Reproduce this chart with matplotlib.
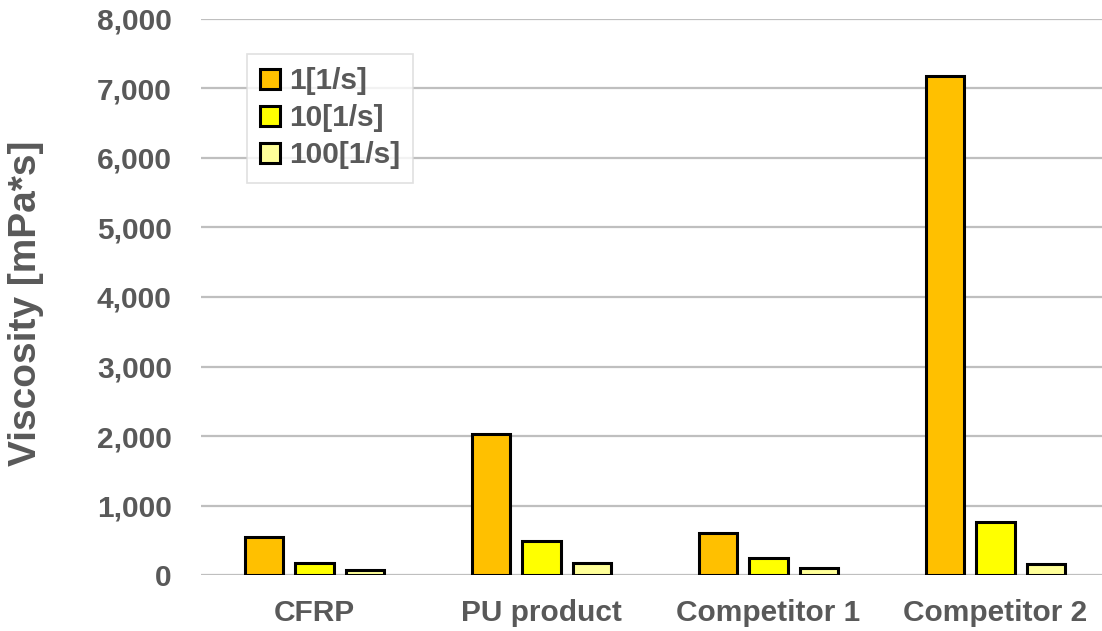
import matplotlib
matplotlib.use("Agg")
import matplotlib.pyplot as plt
import numpy as np
from matplotlib.ticker import FuncFormatter

# Viscosity at three shear rates for each material
categories = ["CFRP", "PU product", "Competitor 1", "Competitor 2"]
series_names = ["1[1/s]", "10[1/s]", "100[1/s]"]
rate_1 = [550, 2030, 605, 7180]
rate_10 = [175, 490, 250, 760]
rate_100 = [70, 175, 105, 160]
series_values = [rate_1, rate_10, rate_100]
series_colors = ["#FFC000", "#FFFF00", "#FFFF99"]
y_ticks = [0, 1000, 2000, 3000, 4000, 5000, 6000, 7000, 8000]

TEXT = "#595959"
GRID = "#BFBFBF"

plt.rcParams["font.family"] = ["Liberation Sans", "DejaVu Sans"]
plt.rcParams["font.weight"] = "bold"

W, H = 1102, 631
fig = plt.figure(figsize=(W / 100, H / 100), dpi=100)
left_px, right_px, top_px, bottom_px = 201, 1102, 19, 575
ax = fig.add_axes([left_px / W, 1 - bottom_px / H,
                   (right_px - left_px) / W, (bottom_px - top_px) / H])

x = np.arange(len(categories))
pitch = 0.2225
width = 0.17
for i, (name, vals, col) in enumerate(zip(series_names, series_values, series_colors)):
    ax.bar(x + (i - 1) * pitch, vals, width, color=col, edgecolor="black",
           linewidth=2.2, label=name, zorder=3)

ax.set_xlim(-0.5, (right_px - 314.5) / 227.0)
ax.set_ylim(0, 8000)
ax.set_yticks(y_ticks)
ax.yaxis.set_major_formatter(FuncFormatter(lambda v, p: f"{int(v):,}"))
ax.set_xticks(x)
ax.set_xticklabels(categories)

ax.grid(axis="y", color=GRID, linewidth=1.6, zorder=0)
ax.grid(axis="x", visible=False)
for s in ax.spines.values():
    s.set_visible(False)
ax.tick_params(axis="both", length=0, colors=TEXT, labelsize=21.5)
ax.tick_params(axis="y", pad=21)
ax.tick_params(axis="x", pad=17)
for lbl in ax.get_xticklabels() + ax.get_yticklabels():
    lbl.set_fontweight("bold")
    lbl.set_color(TEXT)

ax.set_ylabel("Viscosity [mPa*s]", fontsize=28, fontweight="bold", color=TEXT)
ax.yaxis.set_label_coords((44 - left_px) / (right_px - left_px), 0.489)

leg = ax.legend(loc="upper left", bbox_to_anchor=((247 - left_px) / (right_px - left_px),
                                                  (bottom_px - 54) / (bottom_px - top_px)),
                fontsize=21.5, frameon=True, fancybox=False, edgecolor="#D9D9D9",
                borderpad=0.45, labelspacing=0.3, handlelength=0.65, handleheight=0.65,
                handletextpad=0.3, borderaxespad=0)
leg.get_frame().set_linewidth(1.2)
for t in leg.get_texts():
    t.set_color(TEXT)
    t.set_fontweight("bold")

fig.savefig("out.png", dpi=100)
